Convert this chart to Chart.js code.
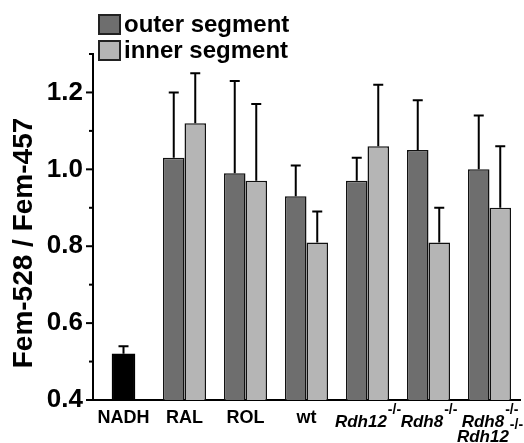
<!DOCTYPE html>
<html>
<head>
<meta charset="utf-8">
<script src="https://cdn.jsdelivr.net/npm/chart.js@4.4.1/dist/chart.umd.min.js"></script>
<style>
  html, body { margin: 0; padding: 0; background: #fff; }
</style>
</head>
<body>
<canvas id="c" width="524" height="443"></canvas>
<script>
// values
const categories = ['NADH', 'RAL', 'ROL', 'wt', 'Rdh12', 'Rdh8', 'Rdh8 Rdh12'];
const labelLines = [['NADH'], ['RAL'], ['ROL'], ['wt'], ['Rdh12'], ['Rdh8'], ['Rdh8', 'Rdh12']];
const knockout = [false, false, false, false, true, true, true];

const outerSegment = [null, 1.03, 0.99, 0.93, 0.97, 1.05, 1.00];
const outerError   = [null, 0.17, 0.24, 0.08, 0.06, 0.13, 0.14];
const innerSegment = [null, 1.12, 0.97, 0.81, 1.06, 0.81, 0.90];
const innerError   = [null, 0.13, 0.20, 0.08, 0.16, 0.09, 0.16];
const nadhValue    = [0.52, null, null, null, null, null, null];
const nadhError    = [0.02, null, null, null, null, null, null];

const FONT = '"Liberation Sans", Arial, sans-serif';

// error bars, tick marks, legend, x labels and y title
const extras = {
  id: 'extras',
  afterDatasetsDraw(chart) {
    const ctx = chart.ctx;
    const y = chart.scales.y;
    ctx.save();
    ctx.strokeStyle = '#000';
    ctx.lineWidth = 2;
    chart.data.datasets.forEach((ds, i) => {
      const meta = chart.getDatasetMeta(i);
      meta.data.forEach((bar, j) => {
        const v = ds.data[j], e = ds.errors[j];
        if (v == null || e == null) return;
        const top = y.getPixelForValue(v + e);
        ctx.beginPath();
        ctx.moveTo(bar.x, bar.y);
        ctx.lineTo(bar.x, top);
        ctx.moveTo(bar.x - 5, top);
        ctx.lineTo(bar.x + 5, top);
        ctx.stroke();
      });
    });
    ctx.restore();
  },
  afterDraw(chart) {
    const ctx = chart.ctx;
    const x = chart.scales.x, y = chart.scales.y;
    const area = chart.chartArea;
    ctx.save();

    // y tick marks, long at labelled ticks
    ctx.strokeStyle = '#000';
    ctx.lineWidth = 2;
    y.ticks.forEach(t => {
      const py = y.getPixelForValue(t.value);
      const len = t.label !== '' ? 7 : 4;
      ctx.beginPath();
      ctx.moveTo(area.left - len, py);
      ctx.lineTo(area.left, py);
      ctx.stroke();
    });

    // legend
    ctx.textBaseline = 'middle';
    ctx.textAlign = 'left';
    ctx.font = 'bold 24px ' + FONT;
    chart.data.datasets.slice(0, 2).forEach((ds, i) => {
      const top = 15 + i * 26;
      ctx.fillStyle = ds.backgroundColor;
      ctx.fillRect(99, top, 21, 19);
      ctx.strokeStyle = '#222';
      ctx.lineWidth = 2;
      ctx.strokeRect(99, top, 21, 19);
      ctx.fillStyle = '#000';
      ctx.fillText(ds.label, 124, top + 10);
    });

    // x labels
    ctx.textBaseline = 'alphabetic';
    categories.forEach((c, i) => {
      const cx = x.getPixelForValue(i);
      labelLines[i].forEach((line, k) => {
        if (!knockout[i]) {
          ctx.font = 'bold 18px ' + FONT;
          ctx.textAlign = 'center';
          ctx.fillText(line, cx, 423);
          return;
        }
        const by = 427 + k * 15;
        ctx.font = 'italic bold 17px ' + FONT;
        const w = ctx.measureText(line).width;
        ctx.font = 'bold 14px ' + FONT;
        const sw = ctx.measureText('-/-').width;
        const start = cx - (w + sw) / 2;
        ctx.textAlign = 'left';
        ctx.font = 'italic bold 17px ' + FONT;
        ctx.fillText(line, start, by);
        ctx.font = 'bold 14px ' + FONT;
        ctx.fillText('-/-', start + w + 1, by - 13);
      });
    });

    // y title
    ctx.font = 'bold 28px ' + FONT;
    ctx.textAlign = 'center';
    ctx.textBaseline = 'middle';
    ctx.translate(24, 243);
    ctx.rotate(-Math.PI / 2);
    ctx.fillText('Fem-528 / Fem-457', 0, 0);
    ctx.restore();
  }
};

new Chart(document.getElementById('c'), {
  type: 'bar',
  data: {
    labels: categories,
    datasets: [
      { label: 'outer segment', data: outerSegment, errors: outerError,
        backgroundColor: '#6e6e6e', borderColor: '#111', borderWidth: 1.5 },
      { label: 'inner segment', data: innerSegment, errors: innerError,
        backgroundColor: '#b5b5b5', borderColor: '#111', borderWidth: 1.5 },
      { label: 'NADH', data: nadhValue, errors: nadhError, grouped: false, barThickness: 23,
        backgroundColor: '#000', borderColor: '#000', borderWidth: 1.5 }
    ]
  },
  options: {
    responsive: false,
    animation: false,
    categoryPercentage: 0.705,
    barPercentage: 1,
    layout: { padding: { top: 54, right: 4, left: 0, bottom: 0 } },
    plugins: { legend: { display: false }, tooltip: { enabled: false } },
    scales: {
      x: {
        grid: { display: false },
        border: { color: '#000', width: 2 },
        ticks: { display: false },
        afterFit(s) { s.height = 43; }
      },
      y: {
        min: 0.4,
        max: 1.3,
        grid: { display: false, drawTicks: false },
        border: { color: '#000', width: 2 },
        ticks: {
          stepSize: 0.1,
          padding: 10,
          color: '#000',
          font: { family: FONT, size: 26, weight: 'bold' },
          callback: v => (Math.round(v * 10) % 2 === 0 ? v.toFixed(1) : '')
        },
        afterFit(s) { s.width = 93; }
      }
    }
  },
  plugins: [extras]
});
</script>
</body>
</html>
